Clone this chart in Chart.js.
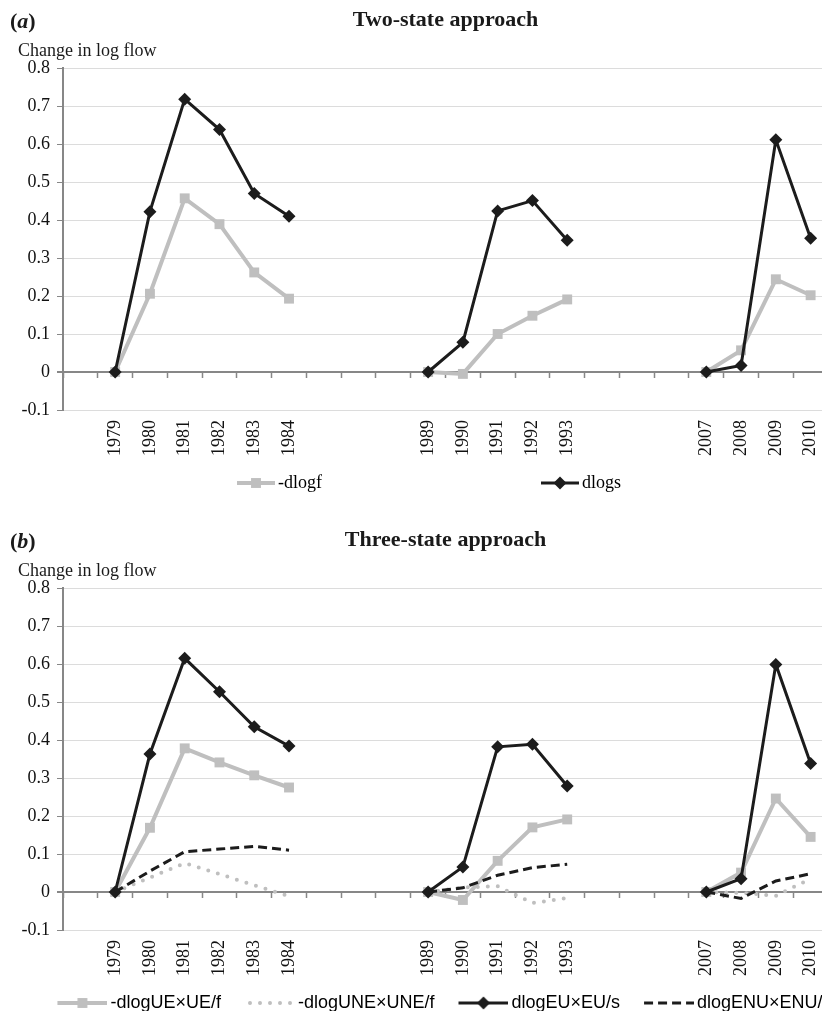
<!DOCTYPE html>
<html>
<head>
<meta charset="utf-8">
<title>Change in log flow</title>
<script src="https://cdn.jsdelivr.net/npm/chart.js@4.4.1/dist/chart.umd.min.js"></script>
<style>
  html, body { margin: 0; padding: 0; background: #fff; overflow: hidden; }
  .panel { position: relative; width: 857px; height: 520px; }
  .panel canvas { display: block; }
  .tag {
    position: absolute; left: 10px; top: 8px;
    font: bold 22px/26px "Liberation Serif", "Times New Roman", serif;
    color: #1a1a1a;
  }
</style>
</head>
<body>
<div class="panel"><span class="tag">(<i>a</i>)</span><canvas id="chartA" width="857" height="520"></canvas></div>
<div class="panel"><span class="tag">(<i>b</i>)</span><canvas id="chartB" width="857" height="520"></canvas></div>

<script>
// categories: blanks separate the three recessions
const years = [
  "", "1979", "1980", "1981", "1982", "1983", "1984",
  "", "", "", "1989", "1990", "1991", "1992", "1993",
  "", "", "", "2007", "2008", "2009", "2010",
];

// (a) two-state approach
const minusDlogF = [null, 0, 0.206, 0.457, 0.389, 0.262, 0.193, null, null, null, 0, -0.005, 0.1, 0.148, 0.191, null, null, null, 0, 0.057, 0.244, 0.202];
const dlogS = [null, 0, 0.422, 0.718, 0.638, 0.47, 0.41, null, null, null, 0, 0.078, 0.424, 0.451, 0.347, null, null, null, 0, 0.017, 0.611, 0.352];

// (b) three-state approach
const minusDlogUE = [null, 0, 0.169, 0.378, 0.341, 0.307, 0.275, null, null, null, 0, -0.021, 0.082, 0.17, 0.191, null, null, null, 0, 0.051, 0.246, 0.145];
const minusDlogUNE = [null, 0, 0.038, 0.076, 0.047, 0.018, -0.011, null, null, null, 0, 0.012, 0.015, -0.029, -0.016, null, null, null, 0, -0.002, -0.01, 0.035];
const dlogEU = [null, 0, 0.363, 0.615, 0.527, 0.435, 0.384, null, null, null, 0, 0.066, 0.382, 0.389, 0.279, null, null, null, 0, 0.035, 0.599, 0.338];
const dlogENU = [null, 0, 0.055, 0.106, 0.113, 0.12, 0.11, null, null, null, 0, 0.011, 0.044, 0.064, 0.073, null, null, null, 0, -0.017, 0.029, 0.048];

const yMin = -0.1;
const yMax = 0.8;
const yStep = 0.1;

const SERIF = "'Liberation Serif', 'Times New Roman', serif";
const SANS = "'Liberation Sans', Arial, sans-serif";
const axisGrey = "#878787";
const gridGrey = "#dcdcdc";
const lightGrey = "#bfbfbf";
const nearBlack = "#1c1c1c";

const greySquare = {
  borderColor: lightGrey, backgroundColor: lightGrey, borderWidth: 4,
  pointStyle: "rect", pointRadius: 7, pointBackgroundColor: lightGrey, pointBorderWidth: 0,
};
const blackDiamond = {
  borderColor: nearBlack, backgroundColor: nearBlack, borderWidth: 3,
  pointStyle: "rectRot", pointRadius: 6.5, pointBackgroundColor: nearBlack, pointBorderWidth: 0,
};
const greyDots = {
  borderColor: lightGrey, borderWidth: 4, borderDash: [0, 10], borderCapStyle: "round", pointRadius: 0,
};
const blackDashes = {
  borderColor: nearBlack, borderWidth: 3, borderDash: [9, 5], pointRadius: 0,
};

// legend sample: line (+ marker) drawn right-aligned in a small canvas
function makeSample(ds, boxWidth, lineLen) {
  const c = document.createElement("canvas");
  c.width = boxWidth + 12;
  c.height = 16;
  const g = c.getContext("2d");
  const y = 8;
  const x1 = c.width - lineLen;
  const x2 = c.width;

  g.strokeStyle = ds.borderColor;
  g.lineWidth = ds.borderWidth;
  g.lineCap = ds.borderCapStyle || "butt";
  if (ds.borderDash) {
    g.setLineDash(ds.borderDash);
    g.lineDashOffset = ds.borderCapStyle === "round" ? -5 : 0;
  }
  g.beginPath();
  g.moveTo(x1, y);
  g.lineTo(x2, y);
  g.stroke();

  const mx = (x1 + x2) / 2;
  const r = ds.pointRadius;
  g.fillStyle = ds.pointBackgroundColor;
  if (ds.pointStyle === "rect" && r) {
    const h = r * Math.SQRT1_2;
    g.fillRect(mx - h, y - h, 2 * h, 2 * h);
  } else if (ds.pointStyle === "rectRot" && r) {
    g.beginPath();
    g.moveTo(mx - r, y);
    g.lineTo(mx, y - r);
    g.lineTo(mx + r, y);
    g.lineTo(mx, y + r);
    g.closePath();
    g.fill();
  }
  return c;
}

function legendLabels(boxWidth, lineLen) {
  return function (chart) {
    return chart.data.datasets.map((ds, i) => ({
      text: ds.label,
      pointStyle: makeSample(ds, boxWidth, lineLen),
      fillStyle: "rgba(0,0,0,0)",
      strokeStyle: "rgba(0,0,0,0)",
      lineWidth: 0,
      hidden: false,
      datasetIndex: i,
    }));
  };
}

function buildScales() {
  return {
    x: {
      type: "category",
      position: { y: 0 },
      offset: true,
      grid: { offset: true, drawOnChartArea: false, tickLength: 5, tickColor: axisGrey, tickWidth: 1.5 },
      border: { color: axisGrey, width: 2 },
      ticks: { display: false },
    },
    x2: {
      type: "category",
      position: "bottom",
      offset: true,
      grid: { display: false, drawTicks: false },
      border: { display: false },
      ticks: {
        autoSkip: false, minRotation: 90, maxRotation: 90, padding: 10,
        color: "#111", font: { family: SERIF, size: 18 },
      },
      afterFit: (s) => { s.height = 54; },
    },
    y: {
      position: "left",
      min: yMin,
      max: yMax,
      ticks: { stepSize: yStep, padding: 7, color: "#111", font: { family: SERIF, size: 18 } },
      grid: {
        color: (c) => (c.tick && Math.abs(c.tick.value) < 1e-9 ? axisGrey : gridGrey),
        lineWidth: (c) => (c.tick && Math.abs(c.tick.value) < 1e-9 ? 2 : 1),
        tickColor: axisGrey,
        tickLength: 6,
      },
      border: { color: axisGrey, width: 2 },
      afterFit: (s) => { s.width = 45; },
    },
    // spacer on the right: the plot runs past the visible edge
    yr: {
      position: "right",
      grid: { display: false },
      border: { display: false },
      ticks: { display: false },
      afterFit: (s) => { s.width = 29; },
    },
  };
}

function buildOptions(title, legend) {
  return {
    responsive: false,
    animation: false,
    events: [],
    layout: { padding: { left: 18, right: 0, top: 0, bottom: 18 } },
    scales: buildScales(),
    plugins: {
      title: {
        display: true,
        text: title,
        fullSize: false,
        color: "#1a1a1a",
        font: { family: SERIF, size: 22, weight: "bold" },
        padding: { top: 7, bottom: 0 },
      },
      subtitle: {
        display: true,
        text: "Change in log flow",
        align: "start",
        fullSize: true,
        color: "#1a1a1a",
        font: { family: SERIF, size: 18 },
        padding: { top: 7, bottom: 6 },
      },
      legend: legend,
      tooltip: { enabled: false },
    },
  };
}

document.addEventListener("DOMContentLoaded", function () {
  new Chart(document.getElementById("chartA").getContext("2d"), {
    type: "line",
    data: {
      labels: years,
      datasets: [
        Object.assign({ label: "-dlogf", data: minusDlogF, order: 1 }, greySquare),
        Object.assign({ label: "dlogs", data: dlogS, order: 0 }, blackDiamond),
      ],
    },
    options: buildOptions("Two-state approach", {
      position: "bottom",
      align: "start",
      labels: {
        usePointStyle: true,
        pointStyleWidth: 241,
        padding: 10,
        color: "#111",
        font: { family: SERIF, size: 18 },
        generateLabels: legendLabels(241, 38),
      },
    }),
  });

  new Chart(document.getElementById("chartB").getContext("2d"), {
    type: "line",
    data: {
      labels: years,
      datasets: [
        Object.assign({ label: "-dlogUE×UE/f", data: minusDlogUE, order: 3 }, greySquare),
        Object.assign({ label: "-dlogUNE×UNE/f", data: minusDlogUNE, order: 2 }, greyDots),
        Object.assign({ label: "dlogEU×EU/s", data: dlogEU, order: 1 }, blackDiamond),
        Object.assign({ label: "dlogENU×ENU/s", data: dlogENU, order: 0 }, blackDashes),
      ],
    },
    options: buildOptions("Three-state approach", {
      position: "bottom",
      align: "center",
      labels: {
        usePointStyle: true,
        pointStyleWidth: 58,
        padding: 10,
        color: "#262626",
        font: { family: SANS, size: 18 },
        generateLabels: legendLabels(58, 50),
      },
    }),
  });
});
</script>
</body>
</html>
